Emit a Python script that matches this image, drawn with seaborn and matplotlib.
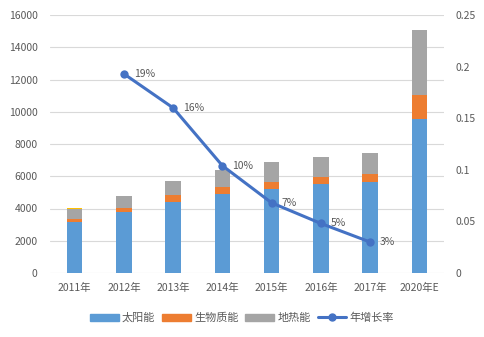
import numpy as np
import pandas as pd
import matplotlib
matplotlib.use("Agg")
import matplotlib.pyplot as plt
import seaborn as sns
from matplotlib.patches import Patch
from matplotlib.lines import Line2D

years = ["2011年", "2012年", "2013年", "2014年", "2015年", "2016年", "2017年", "2020年E"]
solar = [3180, 3780, 4400, 4900, 5190, 5540, 5665, 9550]
biomass = [170, 250, 435, 435, 450, 415, 495, 1490]
geothermal = [620, 745, 870, 1055, 1240, 1240, 1280, 4030]
other = [40, 0, 0, 0, 0, 0, 0, 0]
growth = [np.nan, 0.193, 0.160, 0.104, 0.068, 0.048, 0.030, np.nan]
growth_labels = ["", "19%", "16%", "10%", "7%", "5%", "3%", ""]

sns.set_theme(style="white")
plt.rcParams["font.family"] = ["Noto Sans CJK SC", "DejaVu Sans"]

C_SOLAR = "#5B9BD5"
C_BIO = "#ED7D31"
C_GEO = "#A5A5A5"
C_OTHER = "#FFC000"
C_LINE = "#4472C4"
TXT = "#595959"

df = pd.DataFrame({"year": years, "solar": solar, "biomass": biomass,
                   "geo": geothermal, "other": other})
df["s1"] = df["solar"]
df["s2"] = df["s1"] + df["biomass"]
df["s3"] = df["s2"] + df["geo"]
df["s4"] = df["s3"] + df["other"]

fig = plt.figure(figsize=(4.84, 3.37), dpi=100)
ax = fig.add_axes([50/484, 1 - 273/337, 394/484, 258/337])

w = 0.31
for col, c in [("s4", C_OTHER), ("s3", C_GEO), ("s2", C_BIO), ("s1", C_SOLAR)]:
    sns.barplot(data=df, x="year", y=col, color=c, width=w, ax=ax,
                saturation=1, linewidth=0, order=years)

ax.set_ylim(0, 16000)
ax.set_yticks(range(0, 16001, 2000))
ax.set_xlim(-0.5, 7.5)
ax.set_xlabel("")
ax.set_ylabel("")
ax.yaxis.grid(True, color="#D9D9D9", linewidth=0.8)
ax.set_axisbelow(True)
for s in ax.spines.values():
    s.set_visible(False)
ax.tick_params(axis="both", length=0, labelsize=7.5, colors=TXT)
ax.tick_params(axis="y", pad=9)
ax.tick_params(axis="x", pad=7)

ax2 = ax.twinx()
pos = np.arange(len(years))
line_df = pd.DataFrame({"pos": pos, "rate": growth}).dropna()
sns.lineplot(data=line_df, x="pos", y="rate", ax=ax2, color=C_LINE, linewidth=2.2,
             marker="o", markersize=6, markeredgewidth=0)
for p, r, lab in zip(pos, growth, growth_labels):
    if lab:
        ax2.text(p + 0.2, r, lab, fontsize=7.5, color=TXT, va="center", ha="left")
ax2.set_ylim(0, 0.25)
ax2.set_yticks([0, 0.05, 0.1, 0.15, 0.2, 0.25])
ax2.set_yticklabels(["0", "0.05", "0.1", "0.15", "0.2", "0.25"])
ax2.set_xlim(-0.5, 7.5)
ax2.set_ylabel("")
ax2.set_xlabel("")
for s in ax2.spines.values():
    s.set_visible(False)
ax2.tick_params(axis="y", length=0, labelsize=7.5, colors=TXT, pad=8)
ax2.grid(False)

handles = [Patch(color=C_SOLAR, label="太阳能"),
           Patch(color=C_BIO, label="生物质能"),
           Patch(color=C_GEO, label="地热能"),
           Line2D([0], [0], color=C_LINE, linewidth=2.2, marker="o", markersize=5,
                  label="年增长率")]
leg = fig.legend(handles=handles, loc="center", bbox_to_anchor=(0.5, 1 - 318/337),
                 ncol=4, frameon=False, fontsize=8, handlelength=2.6,
                 handleheight=0.6, columnspacing=0.6, handletextpad=0.3)
for t in leg.get_texts():
    t.set_color(TXT)

fig.savefig("out.png", dpi=100)
